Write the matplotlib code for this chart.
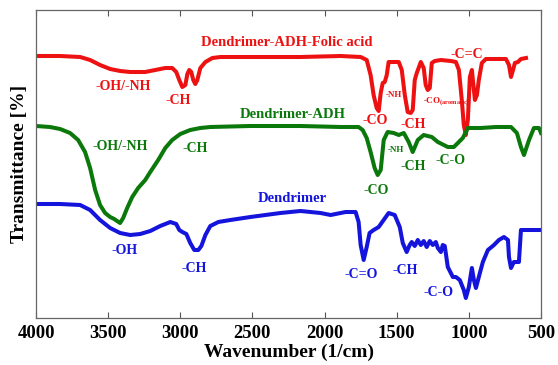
import matplotlib
matplotlib.use("Agg")
import matplotlib.pyplot as plt

# ---- data (wavenumber in 1/cm, transmittance in arbitrary offset units) ----
red_wn = [4000, 3833, 3694, 3625, 3556, 3486, 3417, 3347, 3243, 3174, 3104, 3056, 3028, 3007, 2986, 2965,
          2951, 2938, 2924, 2910, 2896, 2882, 2861, 2826, 2778, 2722, 2514, 2167, 1889, 1750, 1708, 1681,
          1660, 1639, 1625, 1611, 1597, 1583, 1569, 1556, 1528, 1486, 1465, 1444, 1424, 1403, 1389, 1375,
          1361, 1333, 1313, 1299, 1285, 1271, 1257, 1236, 1194, 1125, 1090, 1069, 1049, 1035, 1021, 1007,
          993, 979, 965, 958, 944, 931, 910, 882, 813, 743, 722, 708, 694, 681, 660, 639, 604]
red_t = [262, 262, 261, 258, 253, 249, 247, 246, 246, 248, 250, 250, 246, 238, 231, 233,
         244, 248, 246, 238, 234, 238, 250, 256, 260, 261, 261, 261, 262, 261, 258, 243,
         223, 210, 207, 225, 235, 236, 243, 256, 256, 256, 248, 223, 206, 205, 208, 238,
         245, 256, 250, 233, 228, 230, 255, 257, 258, 257, 256, 248, 218, 193, 183, 198,
         241, 248, 228, 218, 223, 238, 255, 259, 259, 259, 253, 241, 248, 255, 256, 259, 260]

green_wn = [4000, 3903, 3833, 3764, 3708, 3660, 3625, 3590, 3556, 3521, 3486, 3458, 3438, 3417, 3396, 3368,
            3333, 3292, 3243, 3208, 3153, 3104, 3056, 3000, 2931, 2861, 2792, 2514, 2167, 1889, 1764, 1736,
            1708, 1681, 1653, 1632, 1611, 1590, 1563, 1521, 1486, 1451, 1417, 1389, 1354, 1313, 1257, 1215,
            1146, 1104, 1042, 1007, 917, 813, 708, 667, 639, 618, 583, 549, 514, 500]
green_t = [192, 191, 189, 185, 178, 166, 150, 128, 113, 105, 101, 99, 97, 95, 100, 110,
           121, 130, 138, 146, 158, 170, 178, 184, 188, 190, 191, 192, 192, 191, 191, 188,
           180, 166, 150, 143, 148, 178, 186, 185, 183, 185, 176, 166, 178, 183, 181, 176,
           171, 171, 180, 190, 190, 191, 191, 185, 171, 163, 178, 190, 190, 185]

blue_wn = [4000, 3833, 3694, 3625, 3556, 3486, 3417, 3347, 3278, 3208, 3139, 3069, 3028, 3007, 2986, 2958,
           2931, 2903, 2875, 2854, 2826, 2792, 2736, 2653, 2514, 2410, 2306, 2167, 2028, 1958, 1854, 1785,
           1764, 1750, 1729, 1708, 1688, 1660, 1625, 1556, 1514, 1479, 1458, 1431, 1410, 1396, 1375,
           1354, 1333, 1313, 1292, 1271, 1250, 1229, 1215, 1194, 1181, 1167, 1146, 1111, 1090, 1063, 1035,
           1021, 1000, 979, 965, 951, 931, 903, 868, 826, 792, 757, 729, 722, 708, 688, 653, 639,
           604, 500]
blue_t = [114, 114, 113, 108, 98, 90, 85, 83, 84, 87, 92, 96, 94, 88, 86, 84,
          75, 68, 68, 72, 83, 92, 96, 98, 101, 103, 105, 107, 105, 103, 106, 106,
          96, 73, 58, 71, 85, 88, 91, 105, 103, 91, 75, 66, 73, 76, 72,
          78, 73, 77, 71, 77, 73, 76, 70, 66, 73, 72, 51, 41, 41, 38, 28,
          20, 31, 50, 38, 30, 41, 56, 68, 73, 78, 81, 78, 61, 50, 56, 56, 88,
          88, 88]

x_ticks = [4000, 3500, 3000, 2500, 2000, 1500, 1000, 500]

RED = "#ee1111"
GREEN = "#0b780b"
BLUE = "#1414dc"

# (text, wavenumber, y, colour, size)
labels = [
    ("Dendrimer-ADH-Folic acid", 2264, 276, RED, 10.5),
    ("-OH/-NH", 3396, 231, RED, 10),
    ("-CH", 3014, 218, RED, 10),
    ("-NH", 1521, 223, RED, 6.5),
    ("-CO", 1646, 197, RED, 10),
    ("-CH", 1389, 194, RED, 10),
    ("-C=C", 1014, 263, RED, 10),
    ("Dendrimer-ADH", 2222, 203, GREEN, 10.5),
    ("-OH/-NH", 3417, 172, GREEN, 10),
    ("-CH", 2896, 169, GREEN, 10),
    ("-CO", 1639, 128, GREEN, 10),
    ("-NH", 1507, 168, GREEN, 6.5),
    ("-CH", 1389, 152, GREEN, 10),
    ("-C-O", 1125, 158, GREEN, 10),
    ("Dendrimer", 2222, 120, BLUE, 10.5),
    ("-OH", 3389, 68, BLUE, 10),
    ("-CH", 2903, 50, BLUE, 10),
    ("-C=O", 1743, 43, BLUE, 10),
    ("-CH", 1438, 47, BLUE, 10),
    ("-C-O", 1208, 25, BLUE, 10),
]

plt.rcParams['font.family'] = ['Liberation Serif', 'DejaVu Serif']
plt.rcParams['font.weight'] = 'bold'

fig = plt.figure(figsize=(5.58, 3.65), dpi=100)
ax = fig.add_axes([36/558, 1-318/365, (541-36)/558, (318-10)/365])

lw = 2.9
ax.plot(red_wn, red_t, color=RED, lw=lw, solid_joinstyle='round')
ax.plot(green_wn, green_t, color=GREEN, lw=lw, solid_joinstyle='round')
ax.plot(blue_wn, blue_t, color=BLUE, lw=lw, solid_joinstyle='round')

for txt, x, y, c, s in labels:
    ax.text(x, y, txt, color=c, fontsize=s, fontweight='bold', ha='center', va='center')
# tiny subscripted aromatic CO label
ax.text(1319, 216, r"-CO$_{\mathregular{(aromatic)}}$", color=RED, fontsize=6.5,
        fontweight='bold', ha='left', va='center')

ax.set_xlim(4000, 500)
ax.set_ylim(0, 308)
ax.set_xticks(x_ticks)
ax.set_xticklabels([str(v) for v in x_ticks], fontsize=13.5, fontweight='bold')
ax.set_yticks([])
ax.tick_params(axis='x', direction='in', top=True, bottom=True, length=4, width=0.8,
               color='#555555', pad=5)
for sp in ax.spines.values():
    sp.set_color('#666666')
    sp.set_linewidth(0.9)

ax.set_xlabel("Wavenumber (1/cm)", fontsize=14, fontweight='bold', labelpad=1)
ax.set_ylabel("Transmittance [%]", fontsize=14, fontweight='bold', labelpad=6)

fig.savefig("out.png", dpi=100)
